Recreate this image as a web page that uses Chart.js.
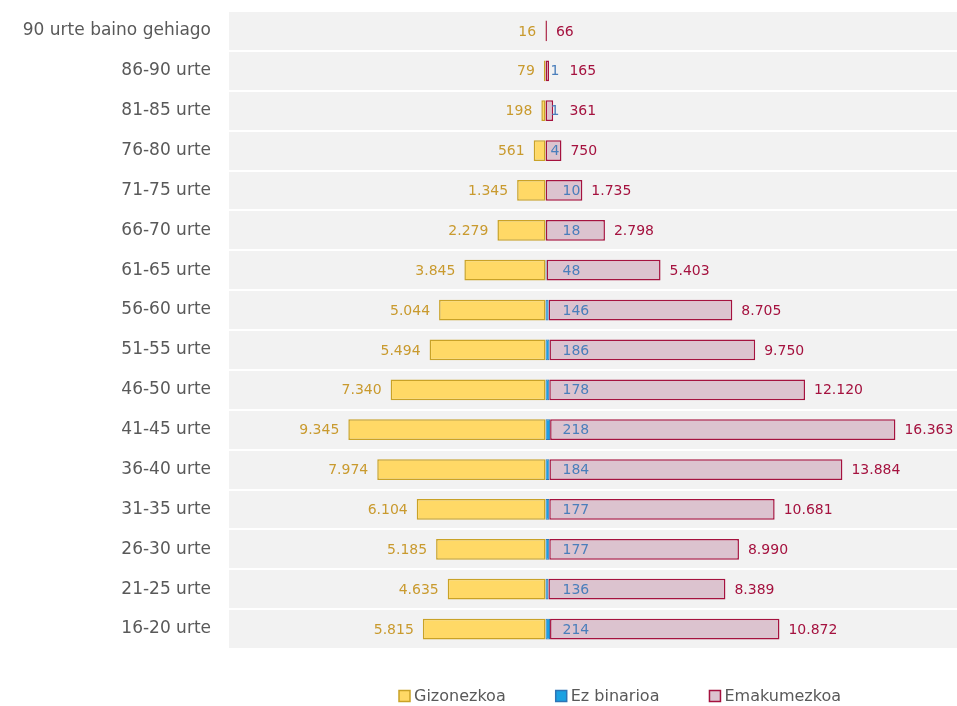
<!DOCTYPE html>
<html>
<head>
<meta charset="utf-8">
<script src="https://cdn.jsdelivr.net/npm/chart.js@4.4.1/dist/chart.umd.min.js"></script>
<style>
  html, body { margin: 0; padding: 0; background: #fff; }
  #wrap { width: 957px; height: 706px; }
</style>
</head>
<body>
<div id="wrap"><canvas id="pyramid" width="957" height="706"></canvas></div>
<script>
// Age groups, top to bottom
const ageGroups = ['90 urte baino gehiago', '86-90 urte', '81-85 urte', '76-80 urte', '71-75 urte',
  '66-70 urte', '61-65 urte', '56-60 urte', '51-55 urte', '46-50 urte', '41-45 urte',
  '36-40 urte', '31-35 urte', '26-30 urte', '21-25 urte', '16-20 urte'];

// People per group
const men = [16, 79, 198, 561, 1345, 2279, 3845, 5044, 5494, 7340, 9345, 7974, 6104, 5185, 4635, 5815];
const nonBinary = [null, 1, 1, 4, 10, 18, 48, 146, 186, 178, 218, 184, 177, 177, 136, 214];
const women = [66, 165, 361, 750, 1735, 2798, 5403, 8705, 9750, 12120, 16363, 13884, 10681, 8990, 8389, 10872];

const FONT = '"DejaVu Sans"';

function fmt(n) {
  return String(n).replace(/\B(?=(\d{3})+(?!\d))/g, '.');
}

// gray plot background behind the rows
const plotBg = {
  id: 'plotBg',
  beforeDraw(chart) {
    const a = chart.chartArea, ctx = chart.ctx;
    ctx.save();
    ctx.fillStyle = '#f2f2f2';
    ctx.fillRect(a.left, a.top, a.right - a.left, a.bottom - a.top);
    ctx.restore();
  }
};

// value labels next to the bars
const valueLabels = {
  id: 'valueLabels',
  afterDatasetsDraw(chart) {
    const ctx = chart.ctx;
    const sets = chart.data.datasets;
    ctx.save();
    ctx.font = '14px ' + FONT;
    ctx.textBaseline = 'middle';
    const blueEnd = [];
    // men
    chart.getDatasetMeta(0).data.forEach((bar, j) => {
      ctx.fillStyle = sets[0].labelColor;
      ctx.textAlign = 'right';
      ctx.fillText(fmt(sets[0].raw[j]), Math.min(bar.x, bar.base) - 9, bar.y + 1);
    });
    // non-binary
    chart.getDatasetMeta(1).data.forEach((bar, j) => {
      const raw = sets[1].raw[j];
      if (raw == null) { blueEnd[j] = 0; return; }
      const x = bar.base + (raw < 10 ? 5 : 17);
      ctx.fillStyle = sets[1].labelColor;
      ctx.textAlign = 'left';
      ctx.fillText(fmt(raw), x, bar.y + 1);
      blueEnd[j] = x + ctx.measureText(fmt(raw)).width;
    });
    // women, pushed right when the small label is in the way
    chart.getDatasetMeta(2).data.forEach((bar, j) => {
      const end = Math.max(bar.x, bar.base);
      let x = end + 9;
      if (blueEnd[j] > end) x = Math.max(x, blueEnd[j] + 10);
      ctx.fillStyle = sets[2].labelColor;
      ctx.textAlign = 'left';
      ctx.fillText(fmt(sets[2].raw[j]), x, bar.y + 1);
    });
    ctx.restore();
  }
};

// legend row under the plot
const bottomLegend = {
  id: 'bottomLegend',
  afterDraw(chart) {
    const ctx = chart.ctx;
    const gap = 50, box = 11, textGap = 4;
    ctx.save();
    ctx.font = '16px ' + FONT;
    ctx.textBaseline = 'middle';
    ctx.textAlign = 'left';
    const items = chart.data.datasets.map(ds => ({
      ds, w: box + textGap + ctx.measureText(ds.label).width
    }));
    const total = items.reduce((s, it) => s + it.w, 0) + gap * (items.length - 1);
    let x = 620 - total / 2;
    const y = 696;
    items.forEach(it => {
      ctx.fillStyle = it.ds.backgroundColor;
      ctx.strokeStyle = it.ds.borderColor;
      ctx.lineWidth = 1.5;
      ctx.fillRect(x, y - box / 2, box, box);
      ctx.strokeRect(x, y - box / 2, box, box);
      ctx.fillStyle = '#595959';
      ctx.fillText(it.ds.label, x + box + textGap, y + 1);
      x += it.w + gap;
    });
    ctx.restore();
  }
};

new Chart(document.getElementById('pyramid'), {
  type: 'bar',
  data: {
    labels: ageGroups,
    datasets: [{
      label: 'Gizonezkoa',
      data: men.map(v => -v),
      raw: men,
      backgroundColor: '#ffd966',
      borderColor: '#c9a227',
      borderWidth: 1.5,
      labelColor: '#c99a2e'
    }, {
      label: 'Ez binarioa',
      data: nonBinary,
      raw: nonBinary,
      backgroundColor: '#1ba1e2',
      borderColor: '#2e75b6',
      borderWidth: 1,
      labelColor: '#4a7ebb'
    }, {
      label: 'Emakumezkoa',
      data: women,
      raw: women,
      backgroundColor: '#dcc3cf',
      borderColor: '#a5123f',
      borderWidth: 1.5,
      labelColor: '#a5123f'
    }]
  },
  options: {
    indexAxis: 'y',
    responsive: false,
    animation: false,
    layout: { padding: { top: 11, right: 0, left: 0, bottom: 57 } },
    datasets: {
      bar: { barPercentage: 0.52, categoryPercentage: 1, borderSkipped: false }
    },
    scales: {
      x: {
        display: false,
        stacked: true,
        min: -15000,
        max: 19500
      },
      y: {
        stacked: true,
        afterFit(scale) {
          scale.width = 229;
          scale.paddingTop = 0;
          scale.paddingBottom = 0;
        },
        grid: { offset: true, color: '#ffffff', lineWidth: 2, drawTicks: false },
        border: { display: false },
        ticks: { color: '#595959', padding: 18, font: { family: 'DejaVu Sans', size: 17 } }
      }
    },
    plugins: {
      tooltip: { enabled: false },
      legend: { display: false }
    }
  },
  plugins: [plotBg, valueLabels, bottomLegend]
});
</script>
</body>
</html>
